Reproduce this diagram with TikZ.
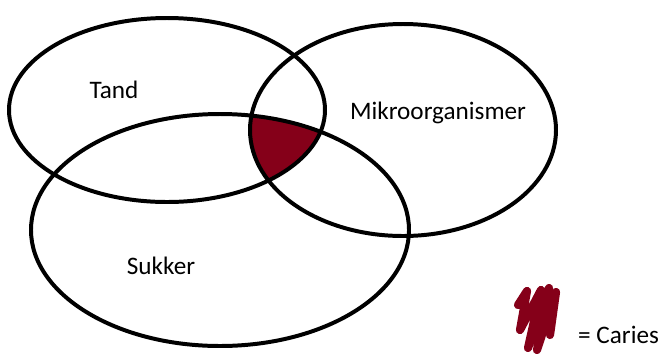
\documentclass[tikz,border=0pt]{standalone}
\usepackage{fontspec}
\setmainfont{Carlito}
\usepackage{tikz}
\usepackage{xcolor}
\definecolor{cariesred}{HTML}{850019}

\begin{document}
\begin{tikzpicture}[x=0.03cm, y=-0.03cm, ring/.style={draw, line width=3.4pt}, lbl/.style={font=\fontsize{21.5}{26}\selectfont, inner sep=0pt}]
        \useasboundingbox (0, 0) rectangle (662, 354);

        % overlap of all three sets
        \begin{scope}
            \clip (167, 110) ellipse [x radius=158, y radius=92];
            \clip (403, 130) ellipse [x radius=153, y radius=106];
            \fill[cariesred] (220, 230) ellipse [x radius=189, y radius=116];
        \end{scope}

        \draw[ring] (167, 110) ellipse [x radius=158, y radius=92];
        \draw[ring] (403, 130) ellipse [x radius=153, y radius=106];
        \draw[ring] (220, 230) ellipse [x radius=189, y radius=116];

        \node[lbl](tand) at (114, 90){Tand};
        \node[lbl](mikro) at (438, 113){Mikroorganismer};
        \node[lbl](sukker) at (161, 266){Sukker};

        % legend
        \draw[cariesred, line width=7pt, line cap=round, line join=round]
            (518, 305) -- (527, 291) -- (520, 330) -- (541, 290) -- (528, 348)
            -- (549, 288) -- (537, 350) -- (556, 292) -- (550, 335);
        \node[lbl, anchor=west](caries) at (578, 335){= Caries};
    \end{tikzpicture}
\end{document}
